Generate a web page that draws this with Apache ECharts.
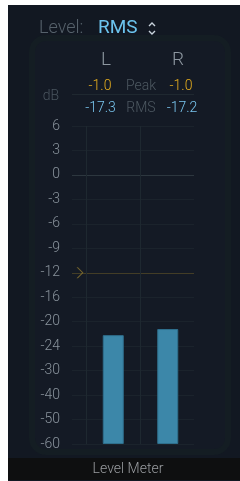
<!DOCTYPE html>
<html>
<head>
<meta charset="utf-8">
<script src="https://cdn.jsdelivr.net/npm/echarts@6/dist/echarts.min.js"></script>
<style>
  html, body { margin: 0; padding: 0; background: #fff; }
  #chart { width: 240px; height: 481px; }
</style>
</head>
<body>
<div id="chart"></div>
<script>
// meter scale, bottom to top (evenly spaced, non-linear dB)
const dbTicks = [-60, -50, -40, -30, -24, -20, -16, -12, -9, -6, -3, 0, 3, 6];
const channels = ['L', 'R'];
const levelValues = [-22.2, -21.2];
const peakValues = ['-1.0', '-1.0'];
const rmsValues = ['-17.3', '-17.2'];
const markerDb = -12;

// dB -> position on the evenly spaced tick scale
function dbToIndex(db) {
  for (let i = 0; i < dbTicks.length - 1; i++) {
    if (db >= dbTicks[i] && db <= dbTicks[i + 1]) {
      return i + (db - dbTicks[i]) / (dbTicks[i + 1] - dbTicks[i]);
    }
  }
  return db < dbTicks[0] ? 0 : dbTicks.length - 1;
}

const font = 'Roboto, "Liberation Sans", sans-serif';
const gridLine = '#1b232c';
const splitColors = dbTicks.map(v => v === 0 ? '#2d373f' : (v === markerDb ? '#433d26' : gridLine));

const chart = echarts.init(document.getElementById('chart'));
chart.setOption({
  backgroundColor: '#ffffff',
  animation: false,
  textStyle: { fontFamily: font },
  graphic: [
    { type: 'rect', z: -10, shape: { x: 8, y: 5, width: 232, height: 476 }, style: { fill: '#121822' } },
    { type: 'rect', z: -9, shape: { x: 32, y: 38, width: 196, height: 414, r: 14 }, style: { fill: '#141a25', stroke: '#141d23', lineWidth: 6 } },
    { type: 'rect', z: -8, shape: { x: 8, y: 458, width: 232, height: 22 }, style: { fill: '#0e0f10' } },
    { type: 'text', x: 128, y: 469, style: { text: 'Level Meter', fill: '#9a9da1', font: '300 14px ' + font, textAlign: 'center', textVerticalAlign: 'middle' } },
    { type: 'text', x: 39, y: 28, style: { text: 'Level:', fill: '#56616b', font: '300 18px ' + font, textAlign: 'left', textVerticalAlign: 'middle' } },
    { type: 'text', x: 98, y: 28, style: { text: 'RMS', fill: '#6cc4ee', font: '400 19px ' + font, textAlign: 'left', textVerticalAlign: 'middle' } },
    { type: 'polyline', shape: { points: [[149, 26], [152, 23], [155, 26]] }, style: { stroke: '#c9d3dc', lineWidth: 1.4, fill: null } },
    { type: 'polyline', shape: { points: [[149, 31], [152, 34], [155, 31]] }, style: { stroke: '#c9d3dc', lineWidth: 1.4, fill: null } },
    { type: 'text', x: 106, y: 60, style: { text: channels[0], fill: '#8d97a0', font: '300 19px ' + font, textAlign: 'center', textVerticalAlign: 'middle' } },
    { type: 'text', x: 178, y: 60, style: { text: channels[1], fill: '#8d97a0', font: '300 19px ' + font, textAlign: 'center', textVerticalAlign: 'middle' } },
    { type: 'text', x: 100, y: 86, style: { text: peakValues[0], fill: '#e6ae1e', font: '300 14px ' + font, textAlign: 'center', textVerticalAlign: 'middle' } },
    { type: 'text', x: 141, y: 86, style: { text: 'Peak', fill: '#4e5962', font: '300 14px ' + font, textAlign: 'center', textVerticalAlign: 'middle' } },
    { type: 'text', x: 181, y: 86, style: { text: peakValues[1], fill: '#e6ae1e', font: '300 14px ' + font, textAlign: 'center', textVerticalAlign: 'middle' } },
    { type: 'line', shape: { x1: 72, y1: 94.5, x2: 194, y2: 94.5 }, style: { stroke: '#1f2830', lineWidth: 1 } },
    { type: 'text', x: 51, y: 96, style: { text: 'dB', fill: '#4a555f', font: '300 14px ' + font, textAlign: 'center', textVerticalAlign: 'middle' } },
    { type: 'text', x: 100.5, y: 108, style: { text: rmsValues[0], fill: '#79c6ef', font: '300 14px ' + font, textAlign: 'center', textVerticalAlign: 'middle' } },
    { type: 'text', x: 141, y: 108, style: { text: 'RMS', fill: '#4e5962', font: '300 14px ' + font, textAlign: 'center', textVerticalAlign: 'middle' } },
    { type: 'text', x: 182, y: 108, style: { text: rmsValues[1], fill: '#79c6ef', font: '300 14px ' + font, textAlign: 'center', textVerticalAlign: 'middle' } }
  ],
  grid: [
    { left: 72, right: 46, top: 126, bottom: 37 },
    { left: 86, right: 45, top: 126, bottom: 37 }
  ],
  xAxis: [
    { type: 'value', gridIndex: 0, min: 0, max: 1, show: false },
    {
      type: 'category', gridIndex: 1, data: channels,
      axisLine: { show: false }, axisTick: { show: false }, axisLabel: { show: false },
      splitLine: { show: true, lineStyle: { color: ['#1e2830', '#1e2830', 'rgba(0,0,0,0)'], width: 1 } }
    }
  ],
  yAxis: [
    {
      type: 'value', gridIndex: 0, min: 0, max: dbTicks.length - 1, interval: 1,
      axisLine: { show: false }, axisTick: { show: false },
      axisLabel: { margin: 12, color: '#8a949d', fontSize: 14, fontWeight: 300, fontFamily: font, formatter: v => String(dbTicks[v]) },
      splitLine: { show: true, lineStyle: { color: splitColors, width: 1 } }
    },
    { type: 'value', gridIndex: 1, min: 0, max: dbTicks.length - 1, interval: 1, show: false, splitLine: { show: false } }
  ],
  series: [
    {
      type: 'bar', xAxisIndex: 1, yAxisIndex: 1, barWidth: 21,
      itemStyle: { color: '#3c87a9', borderColor: '#2f6f8d', borderWidth: 1 },
      data: levelValues.map(dbToIndex)
    },
    {
      type: 'scatter', xAxisIndex: 0, yAxisIndex: 0, silent: true,
      symbol: 'path://M0,0 L6,5.5 L0,11 L1.6,11 L7.6,5.5 L1.6,0 Z',
      symbolSize: [7, 11], symbolOffset: [8, 0],
      itemStyle: { color: '#8a7630' },
      data: [[0, dbToIndex(markerDb)]]
    }
  ]
});
</script>
</body>
</html>
